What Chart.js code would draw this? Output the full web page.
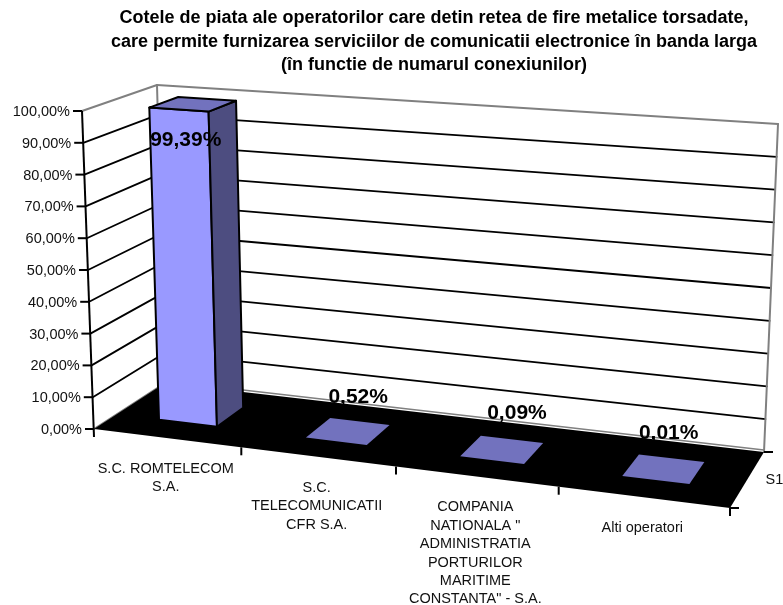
<!DOCTYPE html>
<html>
<head>
<meta charset="utf-8">
<style>
html, body { margin: 0; padding: 0; background: #fff; }
canvas { display: block; }
</style>
<script src="https://cdn.jsdelivr.net/npm/chart.js@4/dist/chart.umd.js"></script>
</head>
<body>
<canvas id="myChart" width="783" height="605"></canvas>
<script>
const titleLines = [
    "Cotele de piata ale operatorilor care detin retea de fire metalice torsadate,",
    "care permite furnizarea serviciilor de comunicatii electronice în banda larga",
    "(în functie de numarul conexiunilor)",
];
const categories = [
    ["S.C. ROMTELECOM", "S.A."],
    ["S.C.", "TELECOMUNICATII", "CFR S.A."],
    ["COMPANIA", "NATIONALA \"", "ADMINISTRATIA", "PORTURILOR", "MARITIME", "CONSTANTA\" - S.A."],
    ["Alti operatori"],
];
const seriesName = "S1";
const seriesValues = [99.39, 0.52, 0.09, 0.01];

const percent = (v, digits) => v.toFixed(digits).replace(".", ",") + "%";

// corners of the 3D box on the page: floor and top, front-left going round
const floorQuad = [[94, 429], [730, 508], [764, 452], [165, 383]];
const topQuad = [[82, 111], [748, 157], [778, 124], [157, 85]];

function quadMap(q) {
    const [[x0, y0], [x1, y1], [x2, y2], [x3, y3]] = q;
    const dx1 = x1 - x2, dx2 = x3 - x2, sx = x0 - x1 + x2 - x3;
    const dy1 = y1 - y2, dy2 = y3 - y2, sy = y0 - y1 + y2 - y3;
    const den = dx1 * dy2 - dx2 * dy1;
    const g = (sx * dy2 - dx2 * sy) / den;
    const h = (dx1 * sy - sx * dy1) / den;
    return (u, v) => {
        const w = g * u + h * v + 1;
        return [
            ((x1 - x0 + g * x1) * u + (x3 - x0 + h * x3) * v + x0) / w,
            ((y1 - y0 + g * y1) * u + (y3 - y0 + h * y3) * v + y0) / w,
        ];
    };
}
const floorAt = quadMap(floorQuad);
const topAt = quadMap(topQuad);

// u across the categories, v into the depth, w up the value axis (all 0..1)
function project(u, v, w) {
    const a = floorAt(u, v), b = topAt(u, v);
    return [a[0] + (b[0] - a[0]) * w, a[1] + (b[1] - a[1]) * w];
}

function poly(ctx, pts, fill, stroke, lineWidth) {
    ctx.beginPath();
    pts.forEach((p, i) => (i ? ctx.lineTo(p[0], p[1]) : ctx.moveTo(p[0], p[1])));
    ctx.closePath();
    if (fill) { ctx.fillStyle = fill; ctx.fill(); }
    if (stroke) { ctx.strokeStyle = stroke; ctx.lineWidth = lineWidth; ctx.stroke(); }
}

function line(ctx, a, b, color, lineWidth) {
    ctx.beginPath();
    ctx.moveTo(a[0], a[1]);
    ctx.lineTo(b[0], b[1]);
    ctx.strokeStyle = color;
    ctx.lineWidth = lineWidth;
    ctx.stroke();
}

const scaleU = (chart, px) => (px - chart.chartArea.left) / chart.chartArea.width;
const scaleW = (chart, py) => (chart.chartArea.bottom - py) / chart.chartArea.height;

const depthFront = 0.3, depthBack = 0.7;
// data labels sit by hand in the original, so nudge them from the bar's front top
const labelNudge = [[7, 31], [22, -42], [25, -47], [13, -47]];
const labelFont = "bold 21px 'Liberation Sans', Arial, sans-serif";
const tickFont = "14.5px 'Liberation Sans', Arial, sans-serif";
const categoryFont = "14.5px 'Liberation Sans', Arial, sans-serif";

const box3d = {
    id: "box3d",
    beforeDatasetsDraw(chart) {
        const ctx = chart.ctx;
        const y = chart.scales.y;
        ctx.save();
        ctx.lineCap = "round";
        // walls
        poly(ctx, [project(0, 0, 0), project(0, 1, 0), project(0, 1, 1), project(0, 0, 1)], "#fff");
        poly(ctx, [project(0, 1, 0), project(1, 1, 0), project(1, 1, 1), project(0, 1, 1)], "#fff");
        // gridlines
        y.ticks.forEach((t) => {
            if (t.value === 0) return;
            const w = scaleW(chart, y.getPixelForValue(t.value));
            const color = t.value === y.max ? "#808080" : "#000";
            const lw = t.value === y.max ? 2 : 1.8;
            line(ctx, project(0, 0, w), project(0, 1, w), color, lw);
            line(ctx, project(0, 1, w), project(1, 1, w), color, lw);
        });
        line(ctx, project(0, 1, 0), project(0, 1, 1), "#808080", 2);
        line(ctx, project(1, 1, 0), project(1, 1, 1), "#808080", 2);
        line(ctx, project(0, 0, 0), project(0, 1, 0), "#808080", 2);
        // floor, with the wall's grey foot just above its back edge
        poly(ctx, [project(0, 0, 0), project(1, 0, 0), project(1, 1, 0), project(0, 1, 0)], "#000");
        const a = project(0, 1, 0), b = project(1, 1, 0);
        line(ctx, [a[0], a[1] - 2], [b[0], b[1] - 2], "#808080", 1.5);
        ctx.restore();
    },
    beforeDatasetDraw(chart, args) {
        const ctx = chart.ctx;
        const ds = chart.data.datasets[args.index];
        ctx.save();
        ctx.lineJoin = "round";
        args.meta.data.forEach((bar) => {
            const u0 = scaleU(chart, bar.x - bar.width / 2);
            const u1 = scaleU(chart, bar.x + bar.width / 2);
            const w = scaleW(chart, bar.y);
            const pts = (u, v) => project(u, v, w);
            const base = (u, v) => project(u, v, 0);
            const flat = pts(u0, depthFront)[1] - base(u0, depthFront)[1] > -3;
            if (flat) {
                poly(ctx, [base(u0, depthFront), base(u1, depthFront), base(u1, depthBack), base(u0, depthBack)], ds.topColor);
                return;
            }
            const edge = "#000";
            poly(ctx, [base(u0, depthFront), base(u1, depthFront), pts(u1, depthFront), pts(u0, depthFront)], ds.backgroundColor, edge, 2);
            poly(ctx, [base(u1, depthFront), base(u1, depthBack), pts(u1, depthBack), pts(u1, depthFront)], ds.sideColor, edge, 2);
            poly(ctx, [pts(u0, depthFront), pts(u1, depthFront), pts(u1, depthBack), pts(u0, depthBack)], ds.topColor, edge, 2);
        });
        ctx.restore();
        return false;
    },
    afterDatasetsDraw(chart) {
        const ctx = chart.ctx;
        const x = chart.scales.x, y = chart.scales.y;
        const meta = chart.getDatasetMeta(0);
        ctx.save();
        ctx.lineCap = "butt";
        // value axis
        line(ctx, project(0, 0, 1), [94, 437], "#000", 2);
        ctx.font = tickFont;
        ctx.fillStyle = "#111";
        ctx.textAlign = "right";
        ctx.textBaseline = "middle";
        y.ticks.forEach((t) => {
            const p = project(0, 0, scaleW(chart, y.getPixelForValue(t.value)));
            line(ctx, [p[0] - 9, p[1]], p, "#000", 2);
            ctx.fillText(t.label, p[0] - 12, p[1] + 1);
        });
        // category axis ticks and labels
        ctx.font = categoryFont;
        ctx.textAlign = "center";
        categories.forEach((lines, i) => {
            const edge = project(scaleU(chart, x.getPixelForValue(i) + x.width / categories.length / 2), 0, 0);
            line(ctx, edge, [edge[0], edge[1] + 8], "#000", 2);
            const c = project(scaleU(chart, x.getPixelForValue(i)), 0, 0);
            lines.forEach((txt, k) => ctx.fillText(txt, c[0] - 1, c[1] + 31 + k * 18.4));
        });
        // depth axis
        [0, 1].forEach((v) => {
            const p = project(1, v, 0);
            line(ctx, p, [p[0] + 9, p[1]], "#000", 2);
        });
        const mid = project(1, 0.5, 0);
        ctx.font = tickFont;
        ctx.textAlign = "left";
        ctx.fillText(seriesName, mid[0] + 18, mid[1] + 1);
        // data labels
        ctx.font = labelFont;
        ctx.textAlign = "center";
        ctx.fillStyle = "#000";
        meta.data.forEach((bar, i) => {
            const p = project(scaleU(chart, bar.x), depthFront, scaleW(chart, bar.y));
            ctx.fillText(percent(seriesValues[i], 2), p[0] + labelNudge[i][0], p[1] + labelNudge[i][1]);
        });
        ctx.restore();
    },
};

const data = {
    labels: categories,
    datasets: [
        {
            label: seriesName,
            data: seriesValues,
            backgroundColor: "#9999FF",
            sideColor: "#4D4D80",
            topColor: "#7272BE",
            barPercentage: 0.4,
            categoryPercentage: 1,
        },
    ],
};

const config = {
    type: "bar",
    data: data,
    plugins: [box3d],
    options: {
        responsive: false,
        animation: false,
        layout: { padding: { left: 94, right: 9, top: 0, bottom: 176 } },
        plugins: {
            legend: { display: false },
            tooltip: { enabled: false },
            title: {
                display: true,
                text: titleLines,
                color: "#000",
                font: { family: "'Liberation Sans', Arial, sans-serif", size: 18, weight: "bold", lineHeight: 1.28 },
                padding: { top: 7, bottom: 35 },
            },
        },
        scales: {
            x: { display: false },
            y: {
                display: false,
                min: 0,
                max: 100,
                ticks: { stepSize: 10, callback: (v) => percent(v, 2) },
            },
        },
    },
};

new Chart(document.getElementById("myChart"), config);
</script>
</body>
</html>
